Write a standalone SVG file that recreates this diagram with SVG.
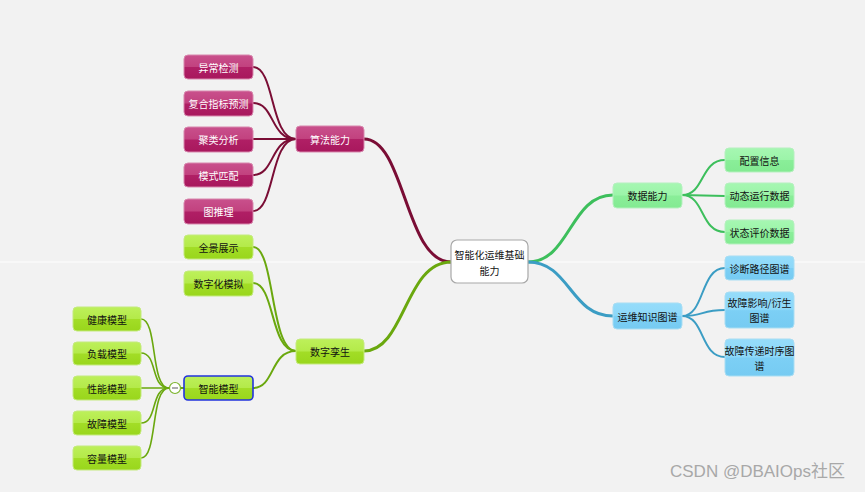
<svg xmlns="http://www.w3.org/2000/svg" width="865" height="492" viewBox="0 0 865 492">
<defs>
<linearGradient id="gM" x1="0" y1="0" x2="0" y2="1"><stop offset="0" stop-color="#c9508c"/><stop offset="0.48" stop-color="#c2427f"/><stop offset="0.52" stop-color="#b01f65"/><stop offset="1" stop-color="#a8185d"/></linearGradient>
<linearGradient id="gG" x1="0" y1="0" x2="0" y2="1"><stop offset="0" stop-color="#bdf05a"/><stop offset="0.48" stop-color="#b4ea4a"/><stop offset="0.52" stop-color="#a2dd26"/><stop offset="1" stop-color="#99d61c"/></linearGradient>
<linearGradient id="gD" x1="0" y1="0" x2="0" y2="1"><stop offset="0" stop-color="#a6f7b2"/><stop offset="0.48" stop-color="#9cf4a9"/><stop offset="0.52" stop-color="#8aee99"/><stop offset="1" stop-color="#83ea92"/></linearGradient>
<linearGradient id="gB" x1="0" y1="0" x2="0" y2="1"><stop offset="0" stop-color="#95dcfa"/><stop offset="0.48" stop-color="#8dd8f9"/><stop offset="0.52" stop-color="#7ccff5"/><stop offset="1" stop-color="#76cbf2"/></linearGradient>
</defs>
<style>
text{font-family:"Noto Sans CJK SC","Liberation Sans",sans-serif;font-size:10px;text-anchor:middle;dominant-baseline:central}
.m rect{fill:url(#gM);stroke:#d887ad;stroke-width:1}
.m text{fill:#ffffff}
.g rect{fill:url(#gG);stroke:#c4ea7e;stroke-width:1}
.d rect{fill:url(#gD);stroke:#b5f0bf;stroke-width:1}
.b rect{fill:url(#gB);stroke:#a8ddf3;stroke-width:1}
.g text,.d text,.b text,.c text{fill:#111}
.c rect{fill:#ffffff;stroke:#a8a8a8;stroke-width:1.2}
.e{fill:none;stroke-linecap:round}
.em{stroke:#7a0d35}
.eg{stroke:#6aa80e}
.ed{stroke:#3dbf5c}
.eb{stroke:#3b9dc4}
</style>
<rect width="865" height="492" fill="#f2f2f2"/>
<line x1="0" y1="262" x2="865" y2="262" stroke="#f8f8f8" stroke-width="2"/>
<g id="connectors">
<path class="e em" stroke-width="3" d="M451,262 C405,262 405,139 364,139"/>
<path class="e eg" stroke-width="3" d="M451,262 C405,262 405,351 364,351"/>
<path class="e ed" stroke-width="3" d="M528,262 C570,262 570,195 613,195"/>
<path class="e eb" stroke-width="3" d="M528,262 C570,262 570,316 613,316"/>
<path class="e em" stroke-width="2" d="M296,139 C270,139 275,67 253,67"/>
<path class="e em" stroke-width="2" d="M296,139 C270,139 275,103 253,103"/>
<path class="e em" stroke-width="2" d="M296,139 L253,139"/>
<path class="e em" stroke-width="2" d="M296,139 C270,139 275,175 253,175"/>
<path class="e em" stroke-width="2" d="M296,139 C270,139 275,211 253,211"/>
<path class="e eg" stroke-width="2" d="M296,351 C270,351 275,247 253,247"/>
<path class="e eg" stroke-width="2" d="M296,351 C270,351 275,283 253,283"/>
<path class="e eg" stroke-width="2" d="M296,351 C270,351 275,388 253,388"/>
<path class="e eg" stroke-width="2" d="M184,388 L181,388"/>
<path class="e eg" stroke-width="1.6" d="M169,388 C150,388 158,319 141,319"/>
<path class="e eg" stroke-width="1.6" d="M169,388 C150,388 158,353 141,353"/>
<path class="e eg" stroke-width="1.6" d="M169,388 L141,388"/>
<path class="e eg" stroke-width="1.6" d="M169,388 C150,388 158,423 141,423"/>
<path class="e eg" stroke-width="1.6" d="M169,388 C150,388 158,458 141,458"/>
<path class="e ed" stroke-width="2" d="M682,195 C705,195 700,160 725,160"/>
<path class="e ed" stroke-width="2" d="M682,195 L725,196"/>
<path class="e ed" stroke-width="2" d="M682,195 C705,195 700,232 725,232"/>
<path class="e eb" stroke-width="2" d="M682,316 C705,316 700,268 725,268"/>
<path class="e eb" stroke-width="2" d="M682,316 C705,316 700,310 725,310"/>
<path class="e eb" stroke-width="2" d="M682,316 C705,316 700,357 725,357"/>
</g>
<g id="center" class="c"><rect x="451" y="240" width="77" height="43" rx="6"/><text x="489.5" y="254">智能化运维基础</text><text x="489.5" y="270">能力</text></g>
<g id="algo" class="m"><rect x="296" y="126" width="68" height="26" rx="4"/><text x="330" y="139">算法能力</text></g>
<g id="a1" class="m"><rect x="184" y="55" width="69" height="24" rx="4"/><text x="218.5" y="67">异常检测</text></g>
<g id="a2" class="m"><rect x="184" y="91" width="69" height="25" rx="4"/><text x="218.5" y="103">复合指标预测</text></g>
<g id="a3" class="m"><rect x="184" y="127" width="69" height="25" rx="4"/><text x="218.5" y="139">聚类分析</text></g>
<g id="a4" class="m"><rect x="184" y="163" width="69" height="24" rx="4"/><text x="218.5" y="175">模式匹配</text></g>
<g id="a5" class="m"><rect x="184" y="199" width="69" height="25" rx="4"/><text x="218.5" y="211">图推理</text></g>
<g id="twin" class="g"><rect x="296" y="339" width="68" height="25" rx="4"/><text x="330" y="351.5">数字孪生</text></g>
<g id="t1" class="g"><rect x="184" y="235" width="69" height="24" rx="4"/><text x="218.5" y="247">全景展示</text></g>
<g id="t2" class="g"><rect x="184" y="271" width="69" height="25" rx="4"/><text x="218.5" y="283">数字化模拟</text></g>
<g id="model" class="g"><rect x="184" y="376" width="69" height="24" rx="4" style="stroke:#2233dd;stroke-width:1.6"/><text x="218.5" y="388">智能模型</text></g>
<g id="collapse"><circle cx="175" cy="388" r="5.5" fill="#ffffff" stroke="#7ab32a" stroke-width="1.2"/><line x1="172" y1="388" x2="178" y2="388" stroke="#888" stroke-width="1.4"/></g>
<g id="m1" class="g"><rect x="73" y="307" width="68" height="24" rx="4"/><text x="107" y="319">健康模型</text></g>
<g id="m2" class="g"><rect x="73" y="342" width="68" height="23" rx="4"/><text x="107" y="353.5">负载模型</text></g>
<g id="m3" class="g"><rect x="73" y="376" width="68" height="24" rx="4"/><text x="107" y="388">性能模型</text></g>
<g id="m4" class="g"><rect x="73" y="411" width="68" height="24" rx="4"/><text x="107" y="423">故障模型</text></g>
<g id="m5" class="g"><rect x="73" y="446" width="68" height="24" rx="4"/><text x="107" y="458">容量模型</text></g>
<g id="data" class="d"><rect x="613" y="183" width="69" height="25" rx="4"/><text x="647.5" y="195.5">数据能力</text></g>
<g id="d1" class="d"><rect x="725" y="148" width="69" height="24" rx="4"/><text x="759.5" y="160">配置信息</text></g>
<g id="d2" class="d"><rect x="725" y="183" width="69" height="25" rx="4"/><text x="759.5" y="195.5">动态运行数据</text></g>
<g id="d3" class="d"><rect x="725" y="220" width="69" height="24" rx="4"/><text x="759.5" y="232">状态评价数据</text></g>
<g id="kg" class="b"><rect x="613" y="303" width="69" height="26" rx="4"/><text x="647.5" y="316">运维知识图谱</text></g>
<g id="k1" class="b"><rect x="725" y="256" width="69" height="24" rx="4"/><text x="759.5" y="268">诊断路径图谱</text></g>
<g id="k2" class="b"><rect x="725" y="292" width="69" height="36" rx="4"/><text x="759.5" y="302.5">故障影响/衍生</text><text x="759.5" y="317.5">图谱</text></g>
<g id="k3" class="b"><rect x="725" y="339" width="69" height="37" rx="4"/><text x="759.5" y="350">故障传递时序图</text><text x="759.5" y="365">谱</text></g>
<text x="757.5" y="471" style="font-size:17px;fill:#a8a8a8;font-family:'Liberation Sans','Noto Sans CJK SC',sans-serif">CSDN @DBAIOps社区</text>
</svg>
